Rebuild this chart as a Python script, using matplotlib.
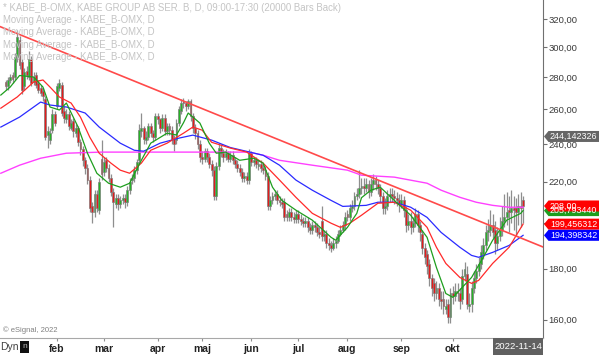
import matplotlib
matplotlib.use("Agg")
import matplotlib.pyplot as plt
from matplotlib.patches import Polygon, Rectangle
from matplotlib.ticker import NullLocator
import numpy as np
import pandas as pd

plt.rcParams['font.family'] = ['Liberation Sans', 'DejaVu Sans']

# trading calendar (Stockholm holidays removed)
holidays = ['2021-12-31', '2022-01-06', '2022-04-15', '2022-04-18',
            '2022-05-26', '2022-06-06', '2022-06-24']
dates = pd.bdate_range('2021-12-29', '2022-11-14')
dates = dates[~dates.isin(pd.to_datetime(holidays))]

opens = [277, 274, 278, 281, 280, 293, 305, 290, 274, 284,
         280, 292, 277, 281, 276, 273, 271, 266, 245, 242,
         248, 257, 262, 273, 275, 259, 254, 257, 249, 253,
         246, 249, 241, 237, 231, 227, 221, 208, 205, 214,
         206, 232, 225, 231, 227, 222, 215, 209, 212, 209,
         211, 212, 210, 216, 221, 222, 226, 231, 247, 249,
         242, 244, 250, 246, 244, 256, 254, 249, 255, 247,
         250, 248, 243, 242, 252, 259, 265, 264, 262, 265,
         256, 249, 246, 240, 233, 232, 236, 233, 229, 226,
         213, 228, 238, 235, 233, 235, 232, 234, 231, 229,
         227, 225, 222, 223, 221, 235, 230, 231, 228, 229,
         227, 226, 223, 208, 211, 213, 214, 211, 210, 210,
         204, 203, 205, 203, 202, 204, 202, 201, 200, 201,
         198, 197, 199, 198, 196, 201, 194, 195, 191, 190,
         189, 191, 192, 195, 197, 199, 204, 203, 207, 208,
         213, 214, 217, 218, 217, 219, 215, 219, 221, 219,
         217, 213, 207, 208, 213, 214, 213, 212, 211, 209,
         211, 206, 199, 201, 198, 200, 204, 199, 195, 189,
         186, 182, 176, 174, 170, 172, 168, 168, 164, 166,
         161, 170, 169, 171, 170, 168, 177, 178, 165, 166,
         172, 176, 179, 182, 186, 190, 196, 197, 199, 197,
         191, 194, 197, 201, 203, 206, 205, 207, 207, 205,
         208, 211]
highs = [278, 280, 282, 283, 296, 312, 308, 292, 286, 287,
         297, 294, 283, 283, 278, 275, 273, 268, 250, 249,
         260, 259, 276, 279, 277, 262, 260, 259, 254, 255,
         251, 250, 243, 239, 233, 229, 223, 210, 216, 216,
         222, 242, 233, 233, 229, 224, 217, 214, 214, 213,
         214, 214, 218, 222, 224, 228, 232, 251, 258, 250,
         247, 252, 252, 248, 258, 258, 255, 257, 257, 252,
         252, 250, 245, 254, 262, 266, 267, 265, 266, 266,
         258, 251, 248, 242, 236, 238, 238, 235, 231, 228,
         230, 240, 240, 237, 237, 236, 236, 236, 233, 231,
         229, 227, 225, 225, 237, 236, 233, 233, 231, 231,
         229, 228, 225, 213, 215, 216, 216, 213, 212, 212,
         206, 207, 207, 205, 206, 206, 204, 203, 203, 203,
         200, 201, 201, 200, 198, 208, 197, 197, 193, 192,
         193, 194, 197, 199, 201, 205, 206, 209, 211, 215,
         217, 226, 222, 222, 222, 221, 222, 224, 223, 221,
         219, 215, 212, 216, 217, 217, 216, 215, 214, 214,
         213, 208, 204, 205, 203, 207, 206, 201, 197, 191,
         188, 184, 178, 176, 175, 174, 171, 171, 168, 168,
         172, 173, 174, 174, 172, 180, 183, 181, 170, 175,
         179, 182, 185, 190, 193, 199, 202, 206, 204, 201,
         198, 203, 208, 214, 215, 213, 216, 213, 212, 214,
         215, 213]
lows = [272, 272, 276, 276, 278, 290, 285, 269, 272, 279,
        278, 274, 275, 273, 270, 268, 265, 242, 238, 240,
        246, 250, 260, 271, 256, 252, 252, 248, 248, 244,
        244, 239, 234, 228, 224, 219, 205, 200, 203, 205,
        204, 221, 223, 225, 220, 213, 198, 207, 206, 207,
        209, 207, 208, 214, 219, 220, 224, 229, 244, 240,
        240, 242, 244, 241, 242, 251, 246, 247, 245, 245,
        245, 240, 236, 240, 250, 257, 261, 259, 260, 253,
        246, 243, 237, 230, 229, 230, 230, 227, 223, 211,
        211, 226, 233, 230, 231, 230, 230, 229, 227, 225,
        223, 220, 220, 219, 219, 228, 228, 227, 226, 225,
        224, 221, 206, 206, 209, 211, 209, 208, 207, 201,
        201, 201, 201, 200, 200, 200, 199, 198, 198, 196,
        195, 195, 196, 194, 193, 192, 192, 189, 188, 187,
        188, 189, 191, 194, 196, 197, 201, 201, 205, 206,
        211, 212, 214, 214, 215, 212, 213, 216, 216, 214,
        210, 204, 204, 206, 210, 210, 209, 208, 205, 207,
        203, 196, 197, 195, 196, 198, 196, 192, 186, 182,
        178, 173, 169, 167, 168, 165, 164, 162, 162, 159,
        159, 166, 167, 167, 164, 166, 175, 164, 163, 163,
        170, 174, 177, 180, 184, 188, 192, 194, 193, 186,
        188, 192, 194, 198, 199, 196, 200, 197, 194, 199,
        198, 200]
closes = [274, 278, 280, 279, 293, 307, 288, 272, 283, 281,
          292, 276, 280, 275, 272, 270, 268, 244, 247, 246,
          257, 252, 274, 276, 258, 255, 257, 250, 252, 247,
          249, 241, 237, 231, 227, 221, 207, 205, 214, 207,
          220, 224, 230, 227, 222, 215, 210, 212, 209, 211,
          212, 210, 216, 220, 222, 226, 230, 248, 249, 243,
          244, 250, 246, 244, 256, 254, 249, 255, 247, 250,
          248, 243, 240, 252, 260, 264, 264, 262, 265, 256,
          249, 246, 240, 233, 232, 236, 233, 229, 226, 213,
          228, 238, 235, 233, 235, 232, 234, 231, 229, 227,
          225, 222, 223, 221, 235, 230, 231, 229, 229, 227,
          226, 223, 208, 211, 213, 214, 211, 210, 209, 203,
          203, 205, 203, 202, 204, 202, 201, 200, 201, 198,
          197, 199, 198, 196, 195, 194, 195, 191, 190, 189,
          191, 192, 195, 197, 199, 203, 203, 207, 208, 213,
          214, 217, 218, 217, 219, 215, 219, 221, 219, 217,
          213, 207, 208, 213, 214, 213, 212, 211, 209, 211,
          206, 199, 201, 198, 200, 204, 199, 196, 189, 185,
          181, 176, 172, 170, 172, 168, 167, 165, 165, 161,
          170, 169, 171, 170, 167, 177, 180, 166, 166, 172,
          176, 179, 182, 187, 190, 196, 197, 199, 196, 191,
          194, 197, 201, 203, 205, 205, 207, 206, 205, 208,
          207, 208]

# moving averages (bar index, price)
ma_green_idx = [-2, 2, 6, 12, 16, 19, 23, 26, 31, 35, 39, 44, 49, 53, 58, 62, 69, 73, 76, 78,
                83, 87, 90, 94, 100, 106, 110, 114, 118, 124, 131, 139, 141, 146, 150, 152,
                156, 160, 166, 173, 180, 184, 188, 191, 195, 199, 204, 208, 214, 220, 221]
ma_green = [268.6, 273.6, 281.0, 280.0, 273.6, 261.3, 259.5, 263.7, 249.5, 234.9, 224.3, 219.2,
            217.2, 219.2, 231.1, 240.4, 246.0, 245.0, 252.0, 257.7, 251.8, 240.4, 234.9, 235.5,
            231.1, 232.2, 229.6, 217.2, 210.7, 206.0, 201.3, 193.5, 192.2, 198.0, 204.5, 212.0,
            215.7, 217.2, 210.7, 203.6, 193.5, 180.5, 170.0, 168.5, 172.4, 176.4, 184.8, 192.2,
            201.3, 204.5, 205.8]
ma_red_idx = [-2, 5, 12, 16, 19, 23, 28, 32, 36, 40, 45, 49, 53, 58, 62, 69, 76, 80, 84, 88,
              96, 103, 110, 117, 124, 131, 139, 143, 147, 152, 159, 166, 173, 180, 184, 188,
              194, 199, 202, 208, 215, 221]
ma_red = [260.6, 267.4, 276.8, 278.1, 273.6, 267.4, 263.7, 255.3, 243.7, 234.9, 229.6, 225.9,
          224.3, 229.6, 236.5, 240.4, 246.0, 249.5, 247.7, 240.9, 237.7, 235.5, 229.6, 220.8,
          212.2, 204.5, 199.9, 198.0, 199.9, 203.6, 209.3, 209.8, 206.0, 198.0, 189.1, 182.2,
          176.4, 174.0, 175.2, 182.2, 189.1, 199.5]
ma_blue_idx = [-2, 6, 15, 19, 26, 34, 40, 49, 55, 59, 66, 74, 80, 88, 96, 110, 117, 124, 131,
               139, 144, 154, 159, 166, 173, 180, 186, 194, 199, 202, 208, 215, 221]
ma_blue = [249.5, 255.3, 264.3, 262.5, 261.3, 257.7, 249.5, 240.4, 236.5, 236.0, 240.4, 243.2,
           244.9, 242.1, 238.0, 233.8, 228.5, 220.8, 215.7, 210.7, 207.8, 208.3, 209.8, 209.8,
           207.4, 202.6, 195.7, 189.1, 185.6, 184.8, 186.9, 189.9, 194.4]
ma_mag_idx = [-2, 6, 15, 26, 41, 58, 75, 89, 104, 110, 117, 131, 146, 152, 166, 180, 186, 194,
              201, 208, 215, 221]
ma_mag = [224.3, 228.5, 232.2, 234.9, 235.5, 235.5, 235.5, 235.5, 235.5, 233.8, 231.1, 228.5,
          225.9, 223.3, 222.3, 219.2, 215.7, 212.2, 209.8, 208.3, 207.4, 207.4]

# hand drawn trendline: two anchor bars and prices
trend_idx = [5, 221]
trend_val = [309.5, 192.8]

# price tags on the right edge
tag_values = [244.142326, 205.793440, 208.00, 199.456312, 194.398342]
tag_texts = ['244,142326', '205,793440', '208,00', '199,456312', '194,398342']
tag_colors = ['#666666', '#1e9e1e', '#ff0000', '#ff0000', '#0000ff']

y_ticks = [160, 180, 200, 220, 240, 260, 280, 300, 320]
month_names = ['jan', 'feb', 'mar', 'apr', 'maj', 'jun', 'jul', 'aug', 'sep', 'okt', 'nov', 'dec']

W, H = 600, 355
fig = plt.figure(figsize=(W / 100, H / 100), dpi=100)
ax = fig.add_axes([0, (H - 337.5) / H, 543 / W, 337.5 / H])

o = np.array(opens, float)
h = np.array(highs, float)
l = np.array(lows, float)
c = np.array(closes, float)
x = np.arange(len(c))

ax.set_yscale('log')
ax.set_ylim(153.6, 334.4)
ax.set_xlim(-2.35, 229.5)

# candles
ax.vlines(x, l, h, color='#8e8e8e', lw=0.9, zorder=2)
up = c >= o
body_col = np.where(up, '#26b326', '#e31b1b')
ax.bar(x, np.abs(c - o), bottom=np.minimum(o, c), width=0.8, color=body_col,
       edgecolor='#7a7a7a', linewidth=0.45, zorder=3)

# moving averages
ax.plot(ma_mag_idx, ma_mag, color='#ff40ff', lw=1.0, zorder=4)
ax.plot(ma_blue_idx, ma_blue, color='#2a2aff', lw=0.9, zorder=4)
ax.plot(ma_red_idx, ma_red, color='#ff2a2a', lw=0.9, zorder=4)
ax.plot(ma_green_idx, ma_green, color='#1e9e1e', lw=0.9, zorder=4)

ax.axline((trend_idx[0], trend_val[0]), (trend_idx[1], trend_val[1]),
          color='#ff4a4a', lw=1.2, zorder=5)

# axes styling
for s in ['top', 'left']:
    ax.spines[s].set_visible(False)
ax.spines['right'].set_color('#707070')
ax.spines['bottom'].set_color('#a8a8a8')
ax.yaxis.tick_right()
ax.set_yticks(y_ticks)
ax.yaxis.set_minor_locator(NullLocator())
ax.set_yticklabels(['' if v == 200 else f'{v:.2f}'.replace('.', ',') for v in y_ticks])
ax.tick_params(axis='y', direction='out', length=3, color='#707070', labelsize=6.8,
               labelcolor='#3a3a3a', pad=1)

# month ticks from February on (first bar of each month)
month_pos, month_lab = [], []
for i in range(1, len(dates)):
    if dates[i].month != dates[i - 1].month and dates[i].month >= 2:
        month_pos.append(i)
        month_lab.append('' if dates[i].month == 11 else month_names[dates[i].month - 1])
ax.set_xticks(month_pos)
ax.set_xticklabels(month_lab, fontweight='bold')
ax.tick_params(axis='x', direction='out', length=2, color='#909090', labelsize=7.5,
               labelcolor='#222222', pad=2.5)

# header lines
header = ['* KABE_B-OMX, KABE GROUP AB SER. B, D, 09:00-17:30 (20000 Bars Back)'] + \
         ['Moving Average - KABE_B-OMX, D'] * 4
for k, t in enumerate(header):
    fig.text(3 / W, 1 - (8 + 12.2 * k) / H, t, fontsize=6.9, color='#c4c4c4', va='center')

fig.text(3 / W, 1 - 330 / H, '\u00a9 eSignal, 2022', fontsize=5.5, color='#808080', va='center')
fig.text(0, 1 - 347 / H, 'Dyn', fontsize=7.5, color='#404040', va='center')
fig.add_artist(Rectangle((20 / W, 1 - 353 / H), 9 / W, 12 / H, transform=fig.transFigure,
                         fc='#111111', ec='none'))
fig.text(24.5 / W, 1 - 347 / H, 'n', fontsize=6, color='#bbbbbb', ha='center', va='center')

# last date box
fig.add_artist(Rectangle((493 / W, 0), 50 / W, 17 / H, transform=fig.transFigure,
                         fc='#606060', ec='none'))
fig.text(518 / W, 8.5 / H, '2022-11-14', fontsize=6.8, color='white', ha='center', va='center')

# value tags
for val, txt, col in zip(tag_values, tag_texts, tag_colors):
    yc = ax.transData.transform((0, val))[1]
    pts = [(544, yc), (548.5, yc + 5.5), (599, yc + 5.5), (599, yc - 5.5), (548.5, yc - 5.5)]
    fig.add_artist(Polygon([(px / W, py / H) for px, py in pts], closed=True,
                           transform=fig.transFigure, fc=col, ec='none', zorder=5))
    fig.text(550 / W, yc / H, txt, fontsize=6.4, color='white', va='center', zorder=6)

fig.savefig('out.png', dpi=100)
